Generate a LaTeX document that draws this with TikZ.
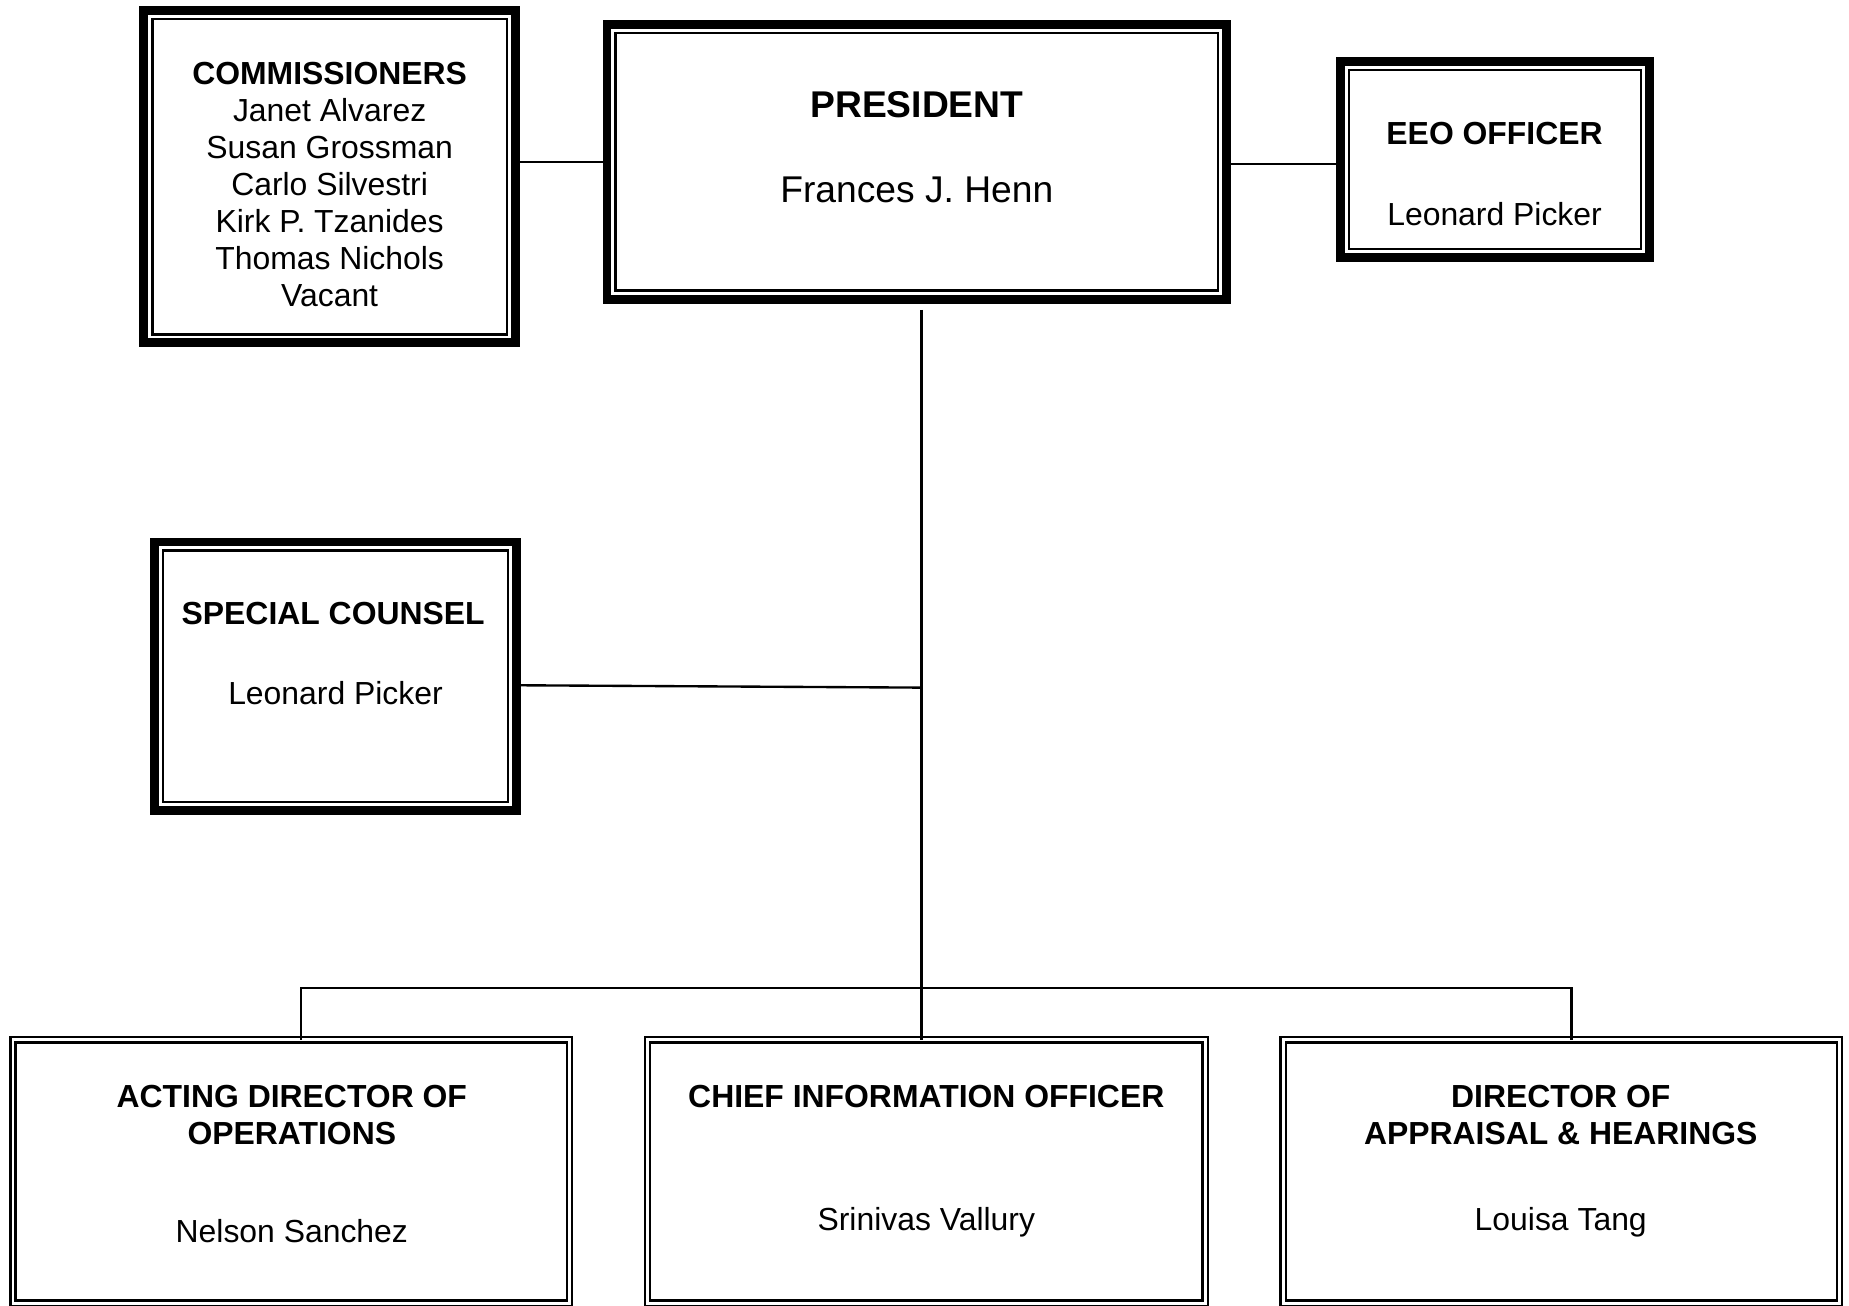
\documentclass[tikz,border=0pt]{standalone}
\usepackage{fontspec}
\setmainfont{Liberation Sans}
\begin{document}
\begin{tikzpicture}[x=1pt,y=-1pt,
  every node/.style={inner sep=0pt,outer sep=0pt},
  heavybox/.style={draw,line width=7.5pt},
  doublebox/.style={draw,line width=2pt,double,double distance=2.5pt},
  rim/.style={line width=2pt},
  title/.style={font=\bfseries\fontsize{27}{31}\selectfont,text height=19.4pt,text depth=0pt},
  person/.style={font=\fontsize{27}{31}\selectfont,text height=19.4pt,text depth=0pt},
  bigtitle/.style={font=\bfseries\fontsize{31.5}{36}\selectfont,text height=22.6pt,text depth=0pt},
  bigperson/.style={font=\fontsize{31.5}{36}\selectfont,text height=22.6pt,text depth=0pt},
  link/.style={line width=2pt}]
\useasboundingbox (0,0) rectangle (1565,1105);
% top row
\node[heavybox,minimum width=314.5pt,minimum height=281.5pt] (comm) at (279,149.5) {};
\node[heavybox,minimum width=524.5pt,minimum height=232.5pt] (pres) at (776,137) {};
\node[heavybox,minimum width=261.5pt,minimum height=166.5pt] (eeo) at (1265.5,135) {};
\node[heavybox,minimum width=306.5pt,minimum height=227.5pt] (spec) at (284,572.5) {};
\foreach \b in {comm,pres,eeo,spec}
  \draw[rim] ([shift={(7.25pt,-7.25pt)}]\b.north west) rectangle ([shift={(-7.25pt,7.25pt)}]\b.south east);
% bottom row
\node[doublebox,minimum width=471pt,minimum height=223pt] (ops) at (246.5,991.5) {};
\node[doublebox,minimum width=472pt,minimum height=223pt] (cio) at (784,991.5) {};
\node[doublebox,minimum width=471pt,minimum height=223pt] (dir) at (1321.5,991.5) {};
% texts
\node[title] (commhead) at (279,62) {COMMISSIONERS};
\foreach \who [count=\i] in {Janet Alvarez,Susan Grossman,Carlo Silvestri,Kirk P. Tzanides,Thomas Nichols,Vacant}
  \node[person] (comm\i) at (279,62+31.3*\i) {\who};
\node[bigtitle] (preshead) at (776,88) {PRESIDENT};
\node[bigperson] (presname) at (776,160) {Frances J. Henn};
\node[title] (eeohead) at (1265,113) {EEO OFFICER};
\node[person] (eeoname) at (1265,181) {Leonard Picker};
\node[title] (spechead) at (282,519) {SPECIAL COUNSEL};
\node[person] (specname) at (284,587) {Leonard Picker};
\node[title] (opshead) at (247,928) {ACTING DIRECTOR OF};
\node[title] (opshead2) at (247,959) {OPERATIONS};
\node[person] (opsname) at (247,1042) {Nelson Sanchez};
\node[title] (ciohead) at (784,928) {CHIEF INFORMATION OFFICER};
\node[person] (cioname) at (784,1032) {Srinivas Vallury};
\node[title] (dirhead) at (1321,928) {DIRECTOR OF};
\node[title] (dirhead2) at (1321,959) {APPRAISAL \& HEARINGS};
\node[person] (dirname) at (1321,1032) {Louisa Tang};
% connectors
\coordinate (trunk) at (780,836);
\coordinate (scjoin) at (780,582);
\coordinate (busL) at (255,836);
\coordinate (busR) at (1330,836);
\draw[link] (pres.west) -- (pres.west -| comm.east);
\draw[link] ([yshift=-2pt]pres.east) -- ([yshift=-2pt]pres.east -| eeo.west);
\draw[link,shorten <=9pt] (trunk |- pres.south) -- (trunk |- cio.north);
\draw[link] ([yshift=-7.5pt]spec.east) -- (scjoin);
\draw[link] (busL |- ops.north) -- (busL) -- (busR) -- (busR |- dir.north);
\end{tikzpicture}
\end{document}
